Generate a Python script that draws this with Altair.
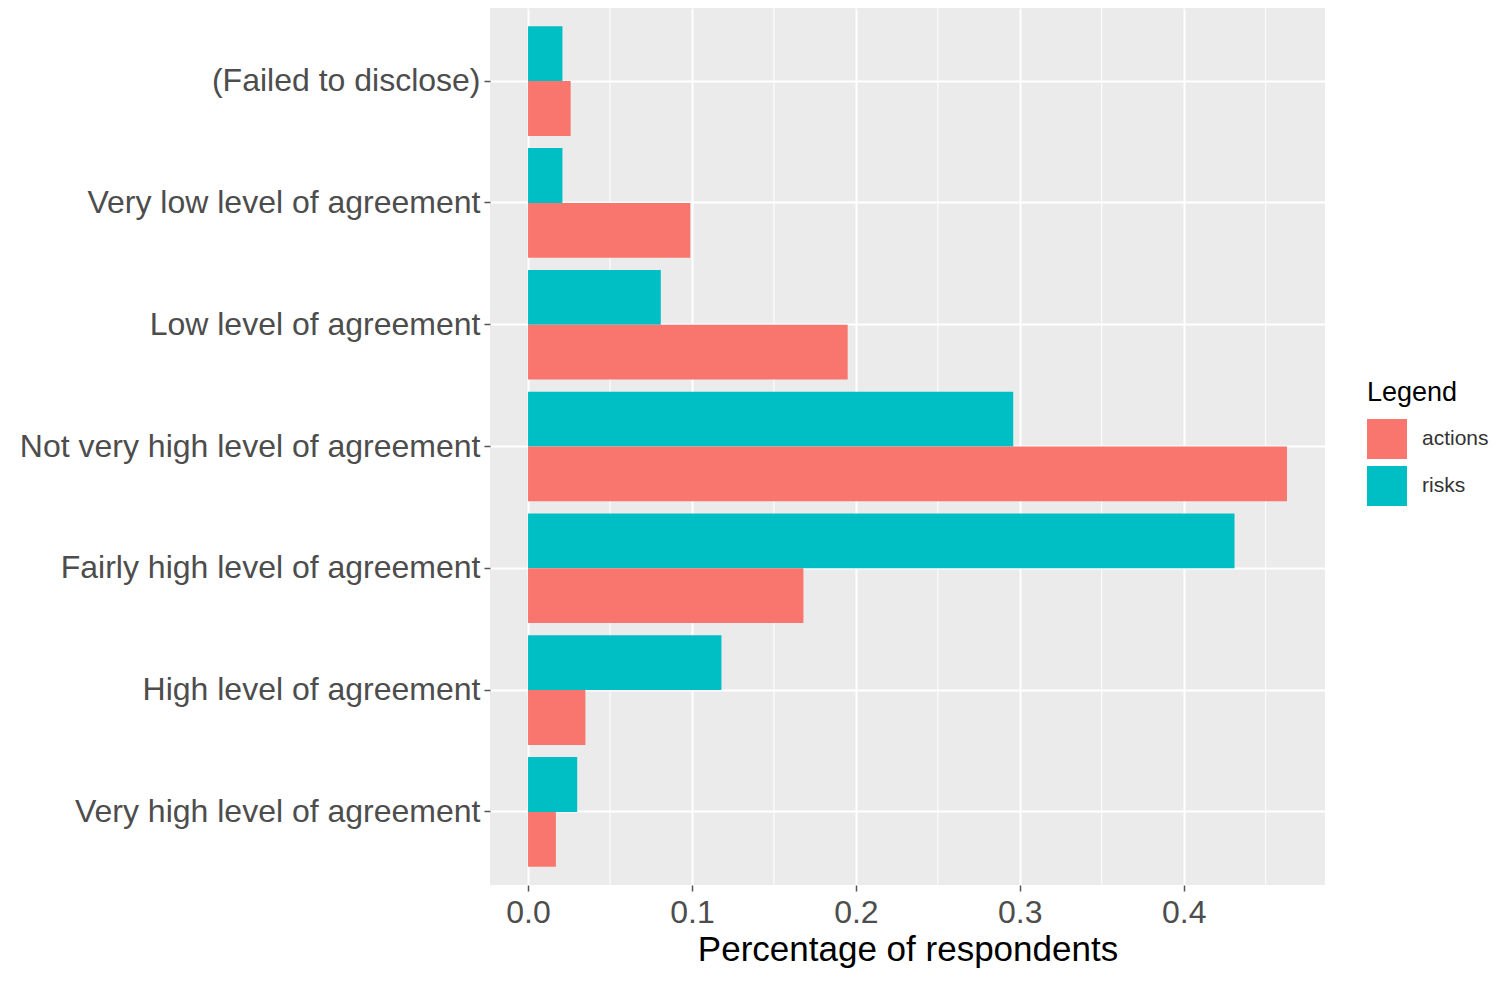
import altair as alt
import pandas as pd

categories = ["(Failed to disclose)", "Very low level of agreement", "Low level of agreement",
              "Not very high level of agreement", "Fairly high level of agreement",
              "High level of agreement", "Very high level of agreement"]
risks = [0.021, 0.021, 0.081, 0.296, 0.431, 0.118, 0.030]
actions = [0.026, 0.099, 0.195, 0.463, 0.168, 0.035, 0.017]
minor_ticks = [0.05, 0.15, 0.25, 0.35, 0.45]

rows = []
for c, r, a in zip(categories, risks, actions):
    rows.append({"cat": c, "Legend": "risks", "value": r})
    rows.append({"cat": c, "Legend": "actions", "value": a})
df = pd.DataFrame(rows)
minor_df = pd.DataFrame({"m": minor_ticks})

xscale = alt.Scale(domain=[-0.0232, 0.4862], nice=False, zero=False)
FONT = "Liberation Sans"

bars = alt.Chart(df).mark_bar().encode(
    y=alt.Y("cat:N", sort=categories, title=None,
            scale=alt.Scale(paddingInner=0.1, paddingOuter=0.15),
            axis=alt.Axis(labelFontSize=32, labelColor="#4d4d4d", labelFont=FONT,
                          labelLimit=0,
                          tickColor="#555555", tickSize=6, tickWidth=1.5, domain=False,
                          labelPadding=4, grid=True, gridColor="white", gridWidth=2,
                          bandPosition=0.5)),
    yOffset=alt.YOffset("Legend:N", sort=["risks", "actions"]),
    x=alt.X("value:Q", scale=xscale, title="Percentage of respondents",
            axis=alt.Axis(values=[0, 0.1, 0.2, 0.3, 0.4], format=".1f",
                          labelFontSize=32, labelColor="#4d4d4d", labelFont=FONT,
                          labelPadding=6,
                          titleFontSize=35, titleFont=FONT, titleColor="black",
                          titleFontWeight="normal", titlePadding=4,
                          tickColor="#555555", tickSize=6, tickWidth=1.5, domain=False,
                          grid=True, gridColor="white", gridWidth=2)),
    x2=alt.datum(0),
    color=alt.Color("Legend:N", sort=["actions", "risks"],
                    scale=alt.Scale(domain=["actions", "risks"], range=["#F8766D", "#00BFC4"]),
                    legend=alt.Legend(title="Legend", titleFontSize=27, titleFont=FONT,
                                      titleFontWeight="normal", titleColor="black",
                                      labelFontSize=21, labelFont=FONT, labelColor="#333333",
                                      symbolType="square", symbolSize=1600,
                                      symbolStrokeWidth=0, symbolOpacity=1,
                                      rowPadding=7, labelOffset=15, titlePadding=12,
                                      orient="none", legendX=877, legendY=372)),
)

minor = alt.Chart(minor_df).mark_rule(color="white", strokeWidth=1).encode(
    x=alt.X("m:Q", scale=xscale)
)

chart = alt.layer(minor, bars).properties(
    width=835, height=877,
    padding={"left": 482, "top": 0, "right": 165, "bottom": 88},
    autosize=alt.AutoSizeParams(type="none"),
    background="white",
).configure_view(fill="#EBEBEB", stroke=None)

chart.save("out.html", embed_options={"renderer": "svg", "actions": False})
